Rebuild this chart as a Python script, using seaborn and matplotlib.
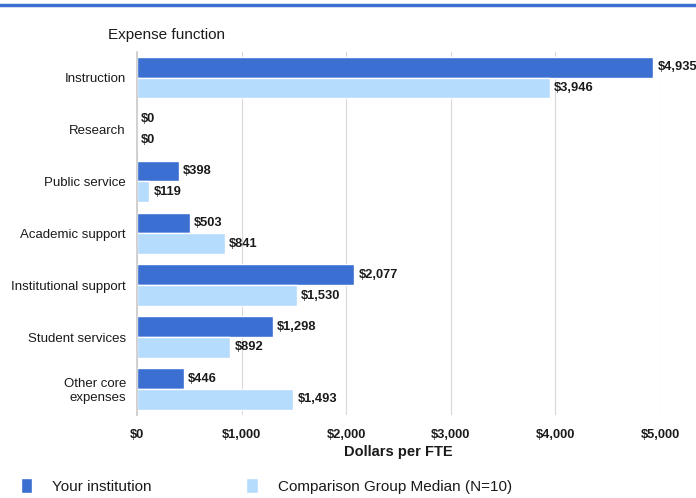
import pandas as pd
import matplotlib
matplotlib.use("Agg")
import matplotlib.pyplot as plt
import seaborn as sns
from matplotlib.lines import Line2D
from matplotlib.patches import Patch

# chart values
categories = ["Instruction", "Research", "Public service", "Academic support",
              "Institutional support", "Student services", "Other core\nexpenses"]
your_institution = [4935, 0, 398, 503, 2077, 1298, 446]
comparison_median = [3946, 0, 119, 841, 1530, 892, 1493]
series_names = ["Your institution", "Comparison Group Median (N=10)"]
x_ticks = [0, 1000, 2000, 3000, 4000, 5000]

DARK = "#3b6fd1"
LIGHT = "#b5dcfd"
INK = "#1a1a1a"

sns.set_theme(style="white")
plt.rcParams["font.family"] = ["Liberation Sans", "DejaVu Sans"]

df = pd.DataFrame({
    "category": categories * 2,
    "value": your_institution + comparison_median,
    "series": [series_names[0]] * len(categories) + [series_names[1]] * len(categories),
})

fig = plt.figure(figsize=(6.96, 4.98), dpi=100)
ax = fig.add_axes([137 / 696, 0.167, (660 - 137) / 696, 0.729])

sns.barplot(data=df, y="category", x="value", hue="series", orient="h",
            palette=[DARK, LIGHT], width=0.8, saturation=1, ax=ax, legend=False)

for cont, vals in zip(ax.containers, [your_institution, comparison_median]):
    ax.bar_label(cont, labels=[f"${v:,}" for v in vals], padding=3,
                 fontsize=9.3, fontweight="bold", color=INK)

ax.set_xlim(0, 5000)
ax.set_xticks(x_ticks)
ax.set_xticklabels([f"${t:,}" for t in x_ticks], fontsize=9.3, fontweight="bold",
                   color=INK)
ax.tick_params(axis="x", pad=10, length=0)
ax.tick_params(axis="y", pad=8, length=0)
for lbl in ax.get_yticklabels():
    lbl.set_fontsize(9.5)
    lbl.set_color(INK)
    lbl.set_horizontalalignment("right")
    lbl.set_multialignment("right")
ax.set_xlabel("Dollars per FTE", fontsize=10.5, fontweight="bold", color=INK, labelpad=3)
ax.set_ylabel("")
ax.xaxis.grid(True, color="#d8d8d8", linewidth=0.8)
ax.set_axisbelow(True)
for side in ["top", "right", "bottom"]:
    ax.spines[side].set_visible(False)
ax.spines["left"].set_color("#cccccc")

fig.text(108 / 696, 1 - 35 / 498, "Expense function", fontsize=11, color=INK,
         va="center", ha="left")

# top rule
fig.add_artist(Line2D([0, 1], [1 - 5 / 498, 1 - 5 / 498], color=DARK, linewidth=2.5,
                      transform=fig.transFigure))

handles = [Patch(facecolor=DARK, label=series_names[0]),
           Patch(facecolor=LIGHT, label=series_names[1])]
leg = fig.legend(handles=handles, loc="center left", bbox_to_anchor=(7 / 696, 1 - 486 / 498),
                 ncol=2, frameon=False, fontsize=11, handlelength=0.75, handleheight=1.1,
                 columnspacing=6.2, handletextpad=1.3)
for t in leg.get_texts():
    t.set_color(INK)

fig.savefig("out.png", dpi=100)
